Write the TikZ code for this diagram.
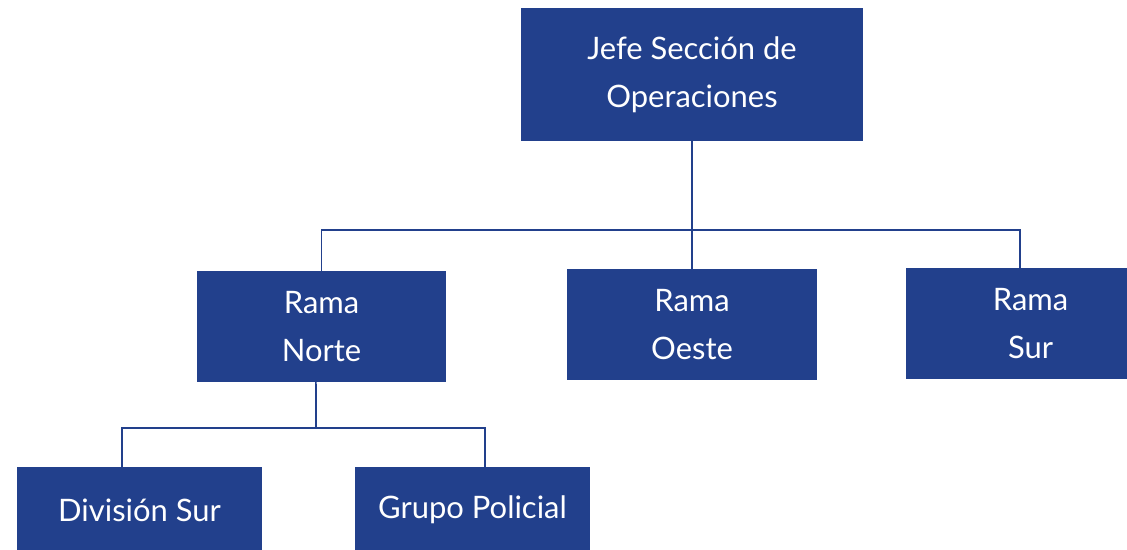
\documentclass[tikz,border=0pt]{standalone}
\usepackage{fontspec}
\setmainfont{Lato}
\definecolor{orgblue}{HTML}{22408C}

\begin{document}
\begin{tikzpicture}[x=0.025cm, y=-0.025cm,
  unit/.style={fill=orgblue, text=white, align=center, inner sep=0pt,
    font=\fontsize{22}{34}\selectfont},
  link/.style={draw=orgblue, line width=1.2pt}]
  \useasboundingbox (0,0) rectangle (1127,550);

  % Head
  \node[unit, minimum width=8.525cm, minimum height=3.325cm] (jefe) at (692,74.5) {Jefe Sección de\\Operaciones};

  % Branches
  \foreach \name/\x/\y/\txt in {norte/321.5/326.5/Norte, oeste/692/324.5/Oeste, sur/1030.5/323.5/Sur} {
    \node[unit, minimum width=6.225cm, minimum height=2.75cm] (\name) at (\x,\y) {Rama\\\txt};
  }

  % Groups under Rama Norte
  \node[unit, minimum width=6.125cm, minimum height=2.15cm] (division) at (139.5,510) {División Sur};
  \node[unit, minimum width=5.875cm, minimum height=2.15cm] (grupo) at (472.5,510) {Grupo Policial};

  % Connectors
  \coordinate (bus) at (692,230);
  \draw[link] (jefe.south) -- (oeste.north);
  \draw[link] (norte.north) |- (bus) -| ([xshift=-0.26cm]sur.north);
  \coordinate (sub) at (316,428);
  \draw[link] ([xshift=-0.14cm]norte.south) -- (sub);
  \draw[link] ([xshift=-0.44cm]division.north) |- (sub) -| ([xshift=0.31cm]grupo.north);
\end{tikzpicture}
\end{document}
